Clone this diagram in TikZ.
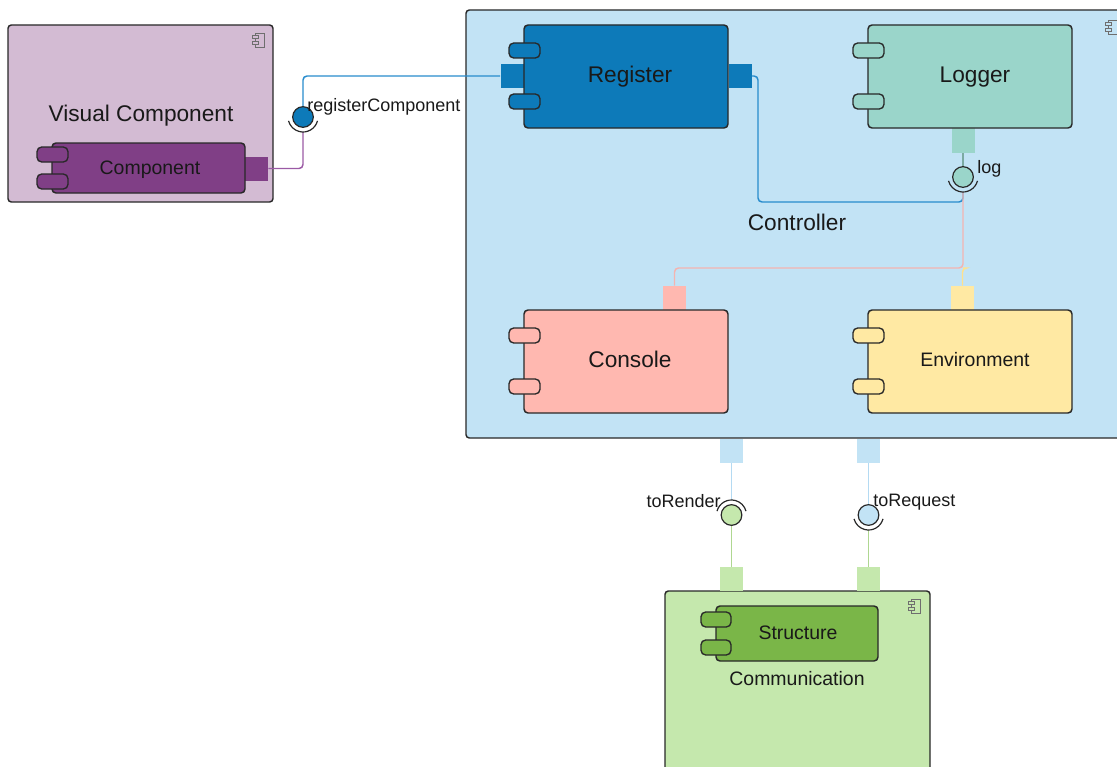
\documentclass[tikz,border=0pt]{standalone}
\usepackage{fontspec}
\setmainfont{Liberation Sans}
\usetikzlibrary{fit,calc}
\definecolor{edge}{RGB}{40,40,40}
\definecolor{vcfill}{RGB}{211,187,211}
\definecolor{compfill}{RGB}{128,63,134}
\definecolor{ctrlfill}{RGB}{194,227,245}
\definecolor{regfill}{RGB}{13,122,185}
\definecolor{logfill}{RGB}{154,213,202}
\definecolor{consfill}{RGB}{255,184,176}
\definecolor{envfill}{RGB}{255,233,163}
\definecolor{commfill}{RGB}{197,232,173}
\definecolor{structfill}{RGB}{122,182,72}
\definecolor{purpline}{RGB}{155,90,165}
\definecolor{blueline}{RGB}{40,140,205}
\definecolor{pinkline}{RGB}{244,180,176}
\definecolor{yellowline}{RGB}{255,225,140}
\definecolor{lblueline}{RGB}{180,218,242}
\definecolor{greenline}{RGB}{175,215,145}
\definecolor{iconcol}{RGB}{110,110,110}
\begin{document}
\begin{tikzpicture}[x=0.75pt,y=-0.75pt,
  container/.style={draw=edge,line width=1.1pt,rounded corners=2.5pt,inner sep=0pt},
  compbox/.style={draw=edge,line width=1.1pt,rounded corners=3pt,inner sep=0pt},
  tabbox/.style={draw=edge,line width=1pt,rounded corners=3.5pt,inner sep=0pt},
  portbox/.style={inner sep=0pt,minimum width=17.25pt,minimum height=18pt},
  ball/.style={circle,draw=edge,line width=0.9pt,inner sep=0pt,minimum size=15.5pt},
  socket/.style={draw=edge,line width=0.9pt},
  conn/.style={line width=1.1pt,rounded corners=3pt},
  bigtxt/.style={font=\fontsize{17}{20}\selectfont,text=black!90,inner sep=0pt},
  midtxt/.style={font=\fontsize{14.6}{17}\selectfont,text=black!90,inner sep=0pt},
  smalltxt/.style={font=\fontsize{13.5}{16}\selectfont,text=black!90,inner sep=0pt},
  compicon/.pic={
    \draw[iconcol,line width=0.45pt] (-4,-7) rectangle (5,7);
    \draw[iconcol,line width=0.45pt,fill=#1] (-7,-4.5) rectangle (-1,-1.5);
    \draw[iconcol,line width=0.45pt,fill=#1] (-7,1.5) rectangle (-1,4.5);
  }
]
\useasboundingbox (0,0) rectangle (1117,767);

% ---------- containers ----------
\node[container,fill=vcfill,fit={(8,25) (273,202)}] (vc) {};
\node[container,fill=ctrlfill,fit={(466,10) (1135,438)}] (ctrl) {};
\node[container,fill=commfill,fit={(665,591) (930,780)}] (comm) {};
\pic at (259,40) {compicon=vcfill};
\pic at (1112,27) {compicon=ctrlfill};
\pic at (915,606) {compicon=commfill};

\node[bigtxt] (vctxt) at (141,116) {Visual Component};
\node[bigtxt] (ctrltxt) at (797,222) {Controller};
\node[midtxt] (commtxt) at (797,679) {Communication};

% ---------- ports ----------
\node[portbox,fill=compfill] (cport) at (256.5,168.5) {};
\node[portbox,fill=regfill] (regL) at (512,76) {};
\node[portbox,fill=regfill] (regR) at (740,76) {};
\node[portbox,fill=logfill,minimum height=18.75pt] (logport) at (963,140.5) {};
\node[portbox,fill=consfill] (consport) at (674.5,298) {};
\node[portbox,fill=envfill] (envport) at (962.5,298) {};
\node[portbox,fill=ctrlfill] (cp1) at (731.5,451) {};
\node[portbox,fill=ctrlfill] (cp2) at (868.5,451) {};
\node[portbox,fill=commfill] (mp1) at (731.5,579) {};
\node[portbox,fill=commfill] (mp2) at (868.5,579) {};

% ---------- components ----------
\node[compbox,fill=compfill,fit={(52,143) (245,193)}] (comp) {};
\node[tabbox,fill=compfill,fit={(37,147) (68,162)}] (compt1) {};
\node[tabbox,fill=compfill,fit={(37,174) (68,189)}] (compt2) {};
\node[midtxt] (comptxt) at (150,169.5) {Component};

\node[compbox,fill=regfill,fit={(524,25) (728,128)}] (reg) {};
\node[tabbox,fill=regfill,fit={(509,43) (540,58)}] (regt1) {};
\node[tabbox,fill=regfill,fit={(509,94) (540,109)}] (regt2) {};
\node[bigtxt] (regtxt) at (630,77) {Register};

\node[compbox,fill=logfill,fit={(868,25) (1072,128)}] (logger) {};
\node[tabbox,fill=logfill,fit={(853,43) (884,58)}] (logt1) {};
\node[tabbox,fill=logfill,fit={(853,94) (884,109)}] (logt2) {};
\node[bigtxt] (logtxt) at (975,77) {Logger};

\node[compbox,fill=consfill,fit={(524,310) (728,413)}] (cons) {};
\node[tabbox,fill=consfill,fit={(509,328) (540,343)}] (const1) {};
\node[tabbox,fill=consfill,fit={(509,379) (540,394)}] (const2) {};
\node[bigtxt] (constxt) at (630,359) {Console};

\node[compbox,fill=envfill,fit={(868,310) (1072,413)}] (env) {};
\node[tabbox,fill=envfill,fit={(853,328) (884,343)}] (envt1) {};
\node[tabbox,fill=envfill,fit={(853,379) (884,394)}] (envt2) {};
\node[midtxt] (envtxt) at (975,360) {Environment};

\node[compbox,fill=structfill,fit={(716,606) (878,661)}] (struct) {};
\node[tabbox,fill=structfill,fit={(701,612) (731,627)}] (structt1) {};
\node[tabbox,fill=structfill,fit={(701,640) (731,655)}] (structt2) {};
\node[midtxt] (structtxt) at (798,632.5) {Structure};

% ---------- interfaces (balls) ----------
\node[ball,fill=regfill] (rcball) at (303,117) {};
\node[ball,fill=logfill] (logball) at (963,177) {};
\node[ball,fill=commfill] (rendball) at (731.5,515) {};
\node[ball,fill=ctrlfill] (reqball) at (868.5,515) {};

\coordinate (rcsock) at (303,132);
\coordinate (logsock) at (963,192);
\coordinate (rendsock) at (731.5,500);
\coordinate (reqsock) at (868.5,530);
\coordinate (bendA) at (758,202);
\coordinate (joinP) at (963,268);

% ---------- connectors ----------
\draw[conn,purpline] (cport.east) -| (rcsock);
\draw[conn,blueline] (regL.west) -| (rcball.north);
\draw[conn,blueline] (regR.east) -| (bendA) -| (logsock);
\draw[conn,logfill!80!black] (logport.south) -- (logball.north);
\draw[conn,yellowline] (envport.north) |- (joinP);
\draw[conn,pinkline] (consport.north) |- (joinP) -- (logsock);
\draw[conn,lblueline] (cp1.south) -- (rendsock);
\draw[conn,greenline] (rendball.south) -- (mp1.north);
\draw[conn,lblueline] (cp2.south) -- (reqball.north);
\draw[conn,greenline] (mp2.north) -- (reqsock);

% ---------- sockets ----------
\draw[socket] ([shift={(15:15)}]rcball.center) arc (15:165:15);
\draw[socket] ([shift={(15:15)}]logball.center) arc (15:165:15);
\draw[socket] ([shift={(195:15)}]rendball.center) arc (195:345:15);
\draw[socket] ([shift={(15:15)}]reqball.center) arc (15:165:15);

% ---------- labels ----------
\node[smalltxt,anchor=west] (rclabel) at (307,106.5) {registerComponent};
\node[smalltxt,anchor=west] (loglabel) at (977,168.5) {log};
\node[smalltxt,anchor=east] (rendlabel) at (721,501) {toRender};
\node[smalltxt,anchor=west] (reqlabel) at (873,502) {toRequest};
\end{tikzpicture}
\end{document}
